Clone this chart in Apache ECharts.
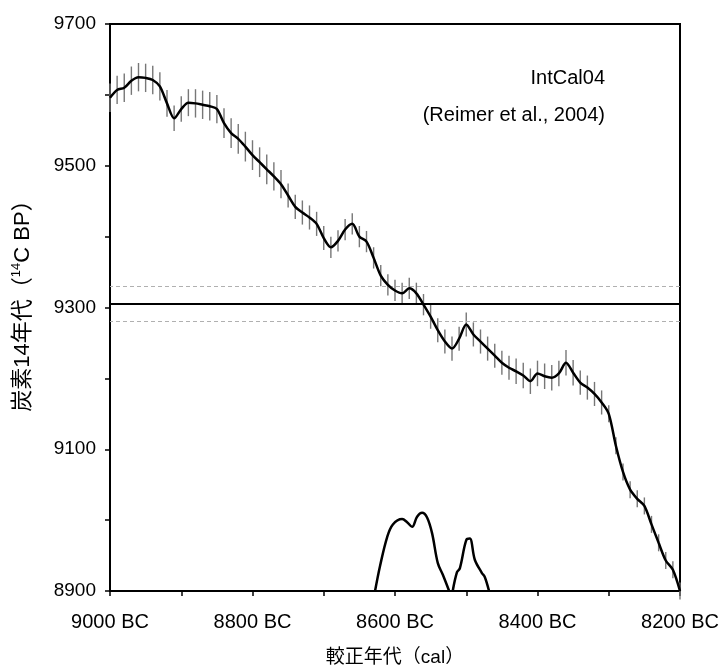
<!DOCTYPE html>
<html><head><meta charset="utf-8">
<script src="https://cdn.jsdelivr.net/npm/echarts@6/dist/echarts.min.js"></script>
<style>html,body{margin:0;padding:0;background:#fff}#c{width:724px;height:665px}</style>
</head><body><div id="c"></div>
<script>
// Calibrated years (BC), 10-year steps
const years = [9000,8990,8980,8970,8960,8950,8940,8930,8920,8910,8900,8890,8880,8870,8860,8850,8840,8830,8820,8810,8800,8790,8780,8770,8760,8750,8740,8730,8720,8710,8700,8690,8680,8670,8660,8650,8640,8630,8620,8610,8600,8590,8580,8570,8560,8550,8540,8530,8520,8510,8500,8490,8480,8470,8460,8450,8440,8430,8420,8410,8400,8390,8380,8370,8360,8350,8340,8330,8320,8310,8300,8290,8280,8270,8260,8250,8240,8230,8220,8210,8200];
// IntCal04 14C age (BP)
const c14Age = [9596,9607,9610,9620,9625,9624,9621,9612,9588,9567,9580,9589,9588,9586,9584,9580,9560,9546,9538,9527,9515,9505,9495,9485,9474,9458,9442,9434,9427,9418,9398,9385,9394,9410,9418,9400,9393,9370,9345,9332,9324,9320,9327,9320,9304,9287,9268,9252,9242,9256,9276,9262,9252,9242,9232,9222,9215,9210,9204,9196,9207,9203,9201,9207,9222,9208,9194,9187,9178,9166,9150,9105,9068,9043,9030,9020,8994,8968,8943,8930,8900];
// 1-sigma error (years)
const c14Err = [20,20,20,20,20,20,20,20,19,18,18,19,20,20,20,20,21,21,21,21,21,21,21,20,20,17,17,17,17,17,17,15,15,15,15,15,15,15,15,15,15,15,15,15,15,17,17,17,17,17,17,17,17,17,17,17,17,18,18,18,18,18,18,18,18,18,17,17,17,17,12,12,12,12,12,12,12,12,12,12,12];
// Measured sample age
const sampleAge = 9305;
const sampleErr = 25;
// Calibrated probability distribution (relative)
const probYears = [8628,8621,8611,8603,8590,8583,8576,8569,8562,8555,8548,8540,8533,8524,null,8519,8513,8509,8500,8495,8488,8478,8474,8468];
const probVals  = [0,0.32,0.69,0.85,0.92,0.88,0.82,0.95,1.0,0.94,0.74,0.36,0.21,0,null,0,0.24,0.29,0.65,0.67,0.40,0.23,0.18,0];
const xTicks = [9000,8800,8600,8400,8200];
const yTicks = [8900,9100,9300,9500,9700];

const FONT = "'Liberation Sans', Arial, 'Noto Sans CJK JP', sans-serif";
const chart = echarts.init(document.getElementById('c'));

const curveData = years.map((y,i)=>[y,c14Age[i]]);
const errData = years.map((y,i)=>[y,c14Age[i]-c14Err[i],c14Age[i]+c14Err[i]]);
const probData = probYears.map((y,i)=> y===null ? [null,null] : [y,probVals[i]]);

chart.setOption({
  animation:false,
  backgroundColor:'#fff',
  grid:{left:110,right:44,top:24,bottom:74,outerBoundsMode:'none',containLabel:false,show:true,borderColor:'#000',borderWidth:2,backgroundColor:'transparent'},
  xAxis:{type:'value',inverse:true,min:8200,max:9000,interval:100,
    axisLine:{lineStyle:{color:'#000',width:2}},
    axisTick:{show:true,length:5,lineStyle:{color:'#000',width:1.5}},
    splitLine:{show:false},
    axisLabel:{color:'#000',fontSize:20,fontFamily:FONT,margin:21,
      formatter:v=> xTicks.indexOf(v)>=0 ? v+' BC' : ''},
    name:'較正年代（cal）',nameLocation:'middle',nameGap:57,
    nameTextStyle:{color:'#000',fontSize:19,fontFamily:FONT}
  },
  yAxis:[{type:'value',min:8900,max:9700,interval:100,
    axisLine:{show:true,lineStyle:{color:'#000',width:2}},
    axisTick:{show:true,length:5,lineStyle:{color:'#000',width:1.5}},
    splitLine:{show:false},
    axisLabel:{color:'#000',fontSize:19,fontFamily:FONT,margin:14,
      formatter:v=> yTicks.indexOf(v)>=0 ? String(v) : ''},
    name:'{a|炭素14年代（}{s|14}{a|C BP）}',nameLocation:'middle',nameRotate:90,nameGap:74,
    nameTextStyle:{color:'#000',fontFamily:FONT,padding:[0,0,0,14],
      rich:{a:{fontSize:22,fontFamily:FONT,color:'#000'},s:{fontSize:13,fontFamily:FONT,color:'#000',padding:[0,0,13,0]}}}
  },{type:'value',min:0,max:7.25,show:false,splitLine:{show:false}}],
  graphic:[
    {type:'text',style:{text:'IntCal04',x:605,y:78,align:'right',verticalAlign:'middle',textAlign:'right',textVerticalAlign:'middle',font:'20px '+FONT,fill:'#000'}},
    {type:'text',style:{text:'(Reimer et al., 2004)',x:605,y:115,align:'right',verticalAlign:'middle',textAlign:'right',textVerticalAlign:'middle',font:'20px '+FONT,fill:'#000'}}
  ],
  series:[
    {type:'custom',name:'err',data:errData,silent:true,z:2,
      renderItem:(params,api)=>{
        const p1=api.coord([api.value(0),api.value(1)]);
        const p2=api.coord([api.value(0),api.value(2)]);
        return {type:'line',shape:{x1:p1[0],y1:p1[1],x2:p2[0],y2:p2[1]},style:{stroke:'#777',lineWidth:1.4}};
      }},
    {type:'line',name:'IntCal04',data:curveData,showSymbol:false,smooth:0.3,z:5,
      lineStyle:{color:'#000',width:2.5},
      markLine:{silent:true,symbol:'none',label:{show:false},
        data:[
          {yAxis:sampleAge,lineStyle:{color:'#000',width:2,type:'solid'}},
          {yAxis:sampleAge+sampleErr,lineStyle:{color:'#b0b0b0',width:1,type:[4,3]}},
          {yAxis:sampleAge-sampleErr,lineStyle:{color:'#b0b0b0',width:1,type:[4,3]}}
        ]}},
    {type:'line',name:'prob',yAxisIndex:1,data:probData,showSymbol:false,smooth:0.35,connectNulls:false,z:5,
      lineStyle:{color:'#000',width:2.5}}
  ]
});
</script></body></html>
